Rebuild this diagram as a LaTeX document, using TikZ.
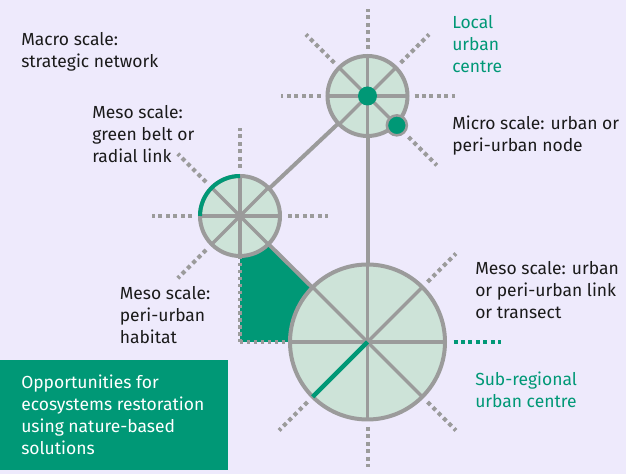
\documentclass[tikz,border=0pt]{standalone}
\usepackage{fontspec}
\setmainfont{Fira Sans}
\usetikzlibrary{calc}
\definecolor{bgc}{RGB}{238,234,252}
\definecolor{eugreen}{RGB}{0,152,118}
\definecolor{paleg}{RGB}{205,227,216}
\definecolor{linegray}{RGB}{155,155,155}
\definecolor{ink}{RGB}{26,26,26}
\begin{document}
\begin{tikzpicture}[x=0.75pt,y=0.75pt,
  hub/.style={circle,draw=linegray,line width=3pt,fill=paleg,inner sep=0pt,outer sep=0pt},
  link/.style={draw=linegray,line width=3pt},
  spoke/.style={draw=linegray,line width=2.6pt},
  gspoke/.style={draw=eugreen,line width=3.4pt},
  ray/.style={draw=linegray,line width=3pt,dash pattern=on 3pt off 2.6pt},
  tealray/.style={draw=eugreen,line width=3pt,dash pattern=on 3pt off 2.6pt},
  edge/.style={draw=linegray,line width=2.3pt,dash pattern=on 2.6pt off 2.6pt},
  lbl/.style={anchor=base west,inner sep=0pt,text=ink,font=\fontsize{13.1}{16.5}\selectfont},
  glbl/.style={lbl,text=eugreen}]
\useasboundingbox (0,0) rectangle (626,474);
\fill[bgc] (0,0) rectangle (626,474);

% centres of the three urban centres and the habitat corner
\coordinate (Lpos) at (367.5,378);
\coordinate (Mpos) at (240,258);
\coordinate (Spos) at (367.5,132);
\coordinate (H) at (240,132);

% peri-urban habitat wedge
\fill[eugreen] (Mpos) -- (H) -- (Spos) -- cycle;

% hubs
\node[hub,minimum size=60pt] (L) at (Lpos) {};
\node[hub,minimum size=60pt] (M) at (Mpos) {};
\node[hub,minimum size=116.25pt] (S) at (Spos) {};

% links between hubs
\draw[link] (L) -- (M);
\draw[link] (L) -- (S);
\draw[link] (M) -- (S);

% dotted habitat edges
\draw[edge] (M.270) -- (H);
\draw[edge] (H) -- (S.180);

% spokes
\foreach \n in {L,M,S}{
  \foreach \a/\b in {0/180,45/225,90/270,135/315}
    \draw[spoke] (\n.\a) -- (\n.\b);
}
\draw[gspoke] (S.center) -- (S.225);
\draw[draw=eugreen,line width=3pt] (M.90) arc[start angle=90,end angle=180,radius=40];

% dotted rays
\foreach \a in {0,45,90,135,180}
  \draw[ray] ($(L)+(\a:47)$) -- ($(L)+(\a:87)$);
\draw[ray] ($(L)+(-45:58)$) -- ($(L)+(-45:98)$);
\foreach \a in {0,90,135,180,225}
  \draw[ray] ($(M)+(\a:48)$) -- ($(M)+(\a:88)$);
\foreach \a in {45,-45,-90,-135}
  \draw[ray] ($(S)+(\a:85)$) -- ($(S)+(\a:125)$);
\draw[tealray] ($(S)+(0:86)$) -- ($(S)+(0:133)$);

% nodes of the local centre
\fill[eugreen] (L) circle[radius=9.5];
\node[circle,fill=eugreen,draw=linegray,line width=1.9pt,minimum size=15pt,inner sep=0pt] (D) at ($(L)+(-45:41.5)$) {};

% opportunities box
\node[fill=eugreen,minimum width=171pt,minimum height=82.5pt,inner sep=0pt,anchor=south west] (box) at (0,4) {};
\node[lbl,text=white] (boxtxt) at (21,85.7) {\begin{tabular}[t]{@{}l@{}}Opportunities for\\ecosystems restoration\\using nature-based\\solutions\end{tabular}};

% labels
\node[lbl] (macro) at (21,428.3) {\begin{tabular}[t]{@{}l@{}}Macro scale:\\strategic network\end{tabular}};
\node[lbl] (belt) at (92,355.7) {\begin{tabular}[t]{@{}l@{}}Meso scale:\\green belt or\\radial link\end{tabular}};
\node[lbl] (habitat) at (119.5,174.7) {\begin{tabular}[t]{@{}l@{}}Meso scale:\\peri-urban\\habitat\end{tabular}};
\node[glbl] (local) at (452,445.7) {\begin{tabular}[t]{@{}l@{}}Local\\urban\\centre\end{tabular}};
\node[lbl] (micro) at (452,344.7) {\begin{tabular}[t]{@{}l@{}}Micro scale: urban or\\peri-urban node\end{tabular}};
\node[lbl] (mesolink) at (475,199) {\begin{tabular}[t]{@{}l@{}}Meso scale: urban\\or peri-urban link\\or transect\end{tabular}};
\node[glbl] (subreg) at (475,88.3) {\begin{tabular}[t]{@{}l@{}}Sub-regional\\urban centre\end{tabular}};
\end{tikzpicture}
\end{document}
